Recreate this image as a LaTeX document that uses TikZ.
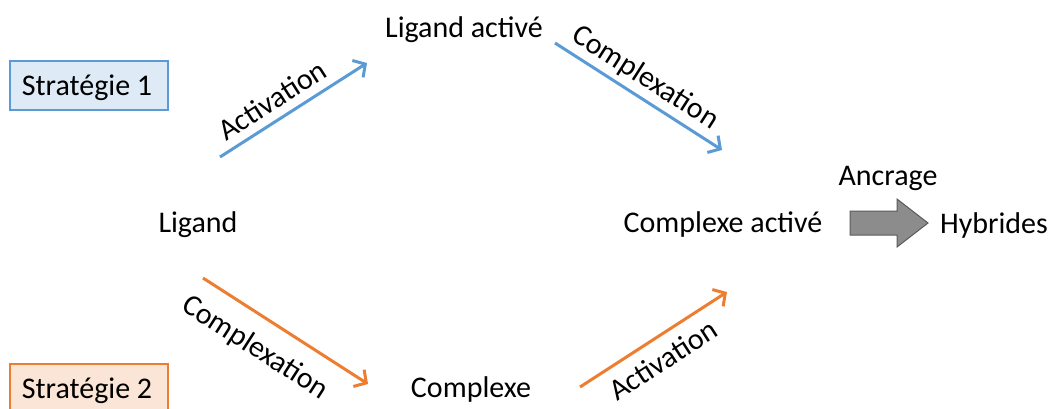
\documentclass[tikz,border=0pt]{standalone}
\usepackage{fontspec}
\setmainfont{Carlito}
\usetikzlibrary{arrows.meta}
\definecolor{sblue}{HTML}{5B9BD5}
\definecolor{sbluefill}{HTML}{DEEBF7}
\definecolor{sorange}{HTML}{ED7D31}
\definecolor{sorangefill}{HTML}{FBE5D6}
\definecolor{agray}{HTML}{8C8C8C}
\definecolor{agrayline}{HTML}{5A5A5A}
\tikzset{
  txt/.style={inner sep=0pt, anchor=base, font=\fontsize{30}{36}\selectfont},
  lbl/.style={inner sep=0pt, anchor=center, font=\fontsize{30}{36}\selectfont},
  stratbox/.style={draw, line width=1.5pt},
  bluearrow/.style={draw=sblue, line width=3pt, -{Straight Barb[length=9pt,width=20pt,line width=3pt]}},
  orangearrow/.style={draw=sorange, line width=3pt, -{Straight Barb[length=9pt,width=20pt,line width=3pt]}},
  blockarrow/.style={fill=agray, draw=agrayline, line width=1pt, line join=miter}
}
\begin{document}
\begin{tikzpicture}[x=1pt,y=-1pt]
\useasboundingbox (0,0) rectangle (1052,408);
\clip (0,0) rectangle (1052,408);
% strategy boxes
\draw[stratbox, draw=sblue, fill=sbluefill] (10,61) rectangle (168,110);
\node[txt] (s1) at (87,95) {Stratégie 1};
\draw[stratbox, draw=sorange, fill=sorangefill] (10,364) rectangle (168,430);
\node[txt] (s2) at (87,398) {Stratégie 2};
% main texts
\node[txt] (lig) at (198,232) {Ligand};
\node[txt] (liga) at (464,37) {Ligand activé};
\node[txt] (compa) at (723,232) {Complexe activé};
\node[txt] (comp) at (471,397) {Complexe};
\node[txt] (hyb) at (994,233) {Hybrides};
\node[txt] (anc) at (888,185) {Ancrage};
% arrow end points
\coordinate (b1s) at (220,157);
\coordinate (b1e) at (367,63);
\coordinate (b2s) at (555,43);
\coordinate (b2e) at (722,150);
\coordinate (o1s) at (203,278);
\coordinate (o1e) at (368,384);
\coordinate (o2s) at (580,387);
\coordinate (o2e) at (727,292);
\draw[bluearrow] (b1s) -- (b1e);
\draw[bluearrow] (b2s) -- (b2e);
\draw[orangearrow] (o1s) -- (o1e);
\draw[orangearrow] (o2s) -- (o2e);
% arrow labels
\node[lbl, rotate=32.6] (lb1) at (272,100) {Activation};
\node[lbl, rotate=-32.6] (lb2) at (645,78) {Complexation};
\node[lbl, rotate=-32.7] (lo1) at (255,348) {Complexation};
\node[lbl, rotate=32.9] (lo2) at (663,360) {Activation};
% block arrow
\draw[blockarrow] (850,211) -- (897,211) -- (897,199) -- (928,223) -- (897,247) -- (897,235) -- (850,235) -- cycle;
\end{tikzpicture}
\end{document}
